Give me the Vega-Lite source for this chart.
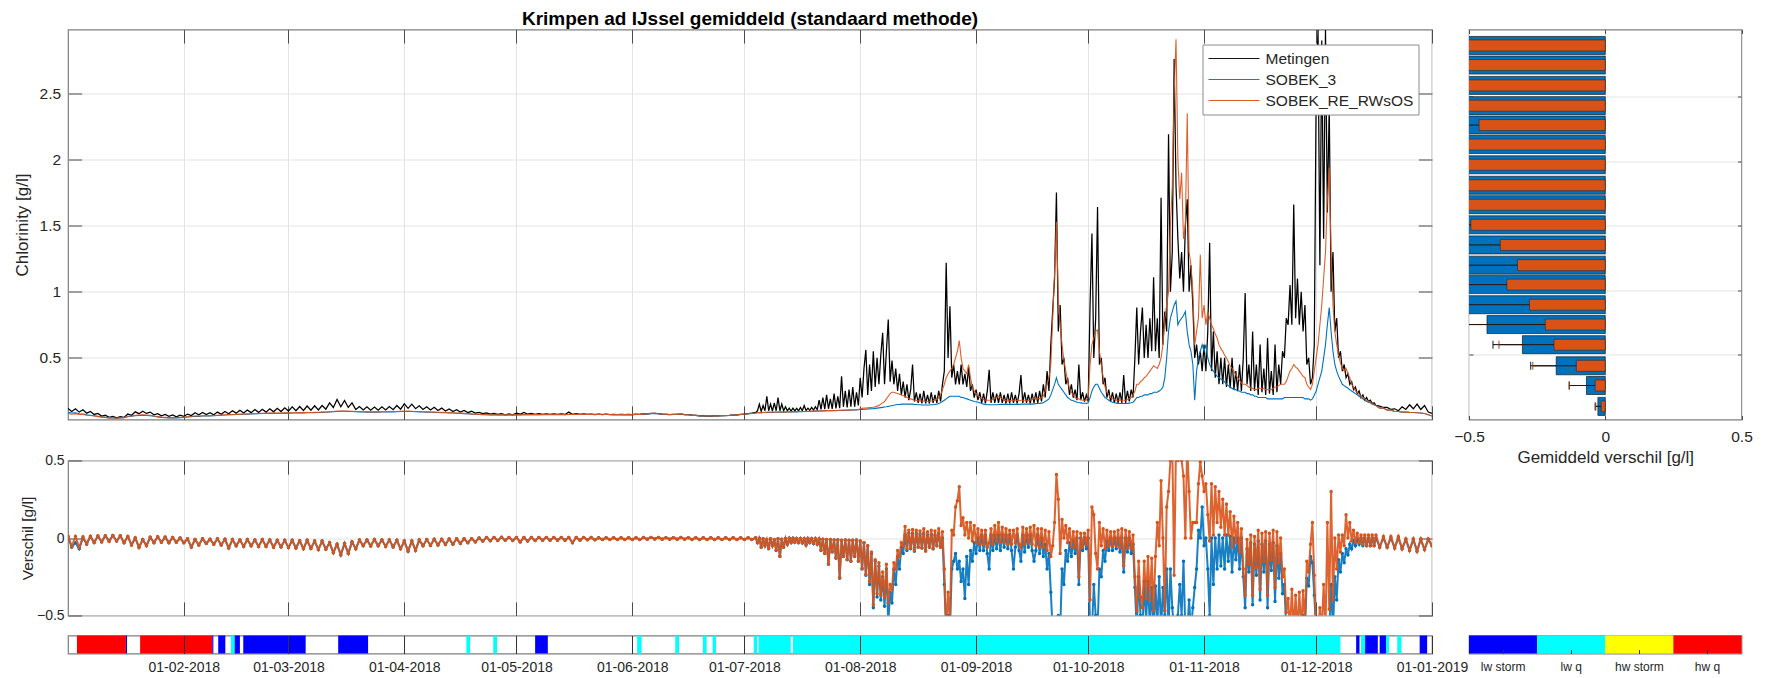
{
  "$schema": "https://vega.github.io/schema/vega-lite/v6.json",
  "background": "white",
  "padding": {"left": 12, "top": 8.5, "right": 5, "bottom": 2},
  "config": {
    "font": "Liberation Sans",
    "view": {"stroke": "#7f7f7f", "strokeWidth": 1.2},
    "axis": {
      "domain": false,
      "labelColor": "#262626",
      "titleColor": "#262626",
      "titleFontWeight": "normal",
      "tickColor": "#4d4d4d",
      "gridColor": "#e3e3e3",
      "labelOverlap": false,
      "labelFlush": false
    }
  },
  "datasets": {
    "ts": [
      {"d":0,"m":0.118,"s":0.088,"r":0.08,"a":0.01,"b":0.012},
      {"d":1,"m":0.094,"s":0.083,"r":0.074,"a":-0.06,"b":-0.055},
      {"d":2,"m":0.115,"s":0.085,"r":0.078,"a":-0.03,"b":0.01},
      {"d":3,"m":0.09,"s":0.078,"r":0.072,"a":-0.07,"b":-0.06},
      {"d":4,"m":0.108,"s":0.076,"r":0.072,"a":0,"b":0.008},
      {"d":5,"m":0.082,"s":0.07,"r":0.066,"a":-0.04,"b":-0.035},
      {"d":6,"m":0.095,"s":0.066,"r":0.064,"a":0.01,"b":0.012},
      {"d":7,"m":0.072,"s":0.062,"r":0.06,"a":-0.03,"b":-0.028},
      {"d":8,"m":0.08,"s":0.058,"r":0.056,"a":0.012,"b":0.014},
      {"d":9,"m":0.06,"s":0.053,"r":0.052,"a":-0.025,"b":-0.025},
      {"d":10,"m":0.066,"s":0.05,"r":0.05,"a":0.015,"b":0.015},
      {"d":11,"m":0.05,"s":0.046,"r":0.046,"a":-0.02,"b":-0.022},
      {"d":12,"m":0.058,"s":0.045,"r":0.046,"a":0.016,"b":0.016},
      {"d":13,"m":0.046,"s":0.044,"r":0.044,"a":-0.02,"b":-0.02},
      {"d":14,"m":0.056,"s":0.046,"r":0.046,"a":0.014,"b":0.014},
      {"d":15,"m":0.05,"s":0.048,"r":0.048,"a":-0.03,"b":-0.03},
      {"d":16,"m":0.075,"s":0.055,"r":0.058,"a":0.01,"b":0.01},
      {"d":17,"m":0.066,"s":0.058,"r":0.06,"a":-0.045,"b":-0.045},
      {"d":18,"m":0.092,"s":0.062,"r":0.066,"a":0,"b":0.002},
      {"d":19,"m":0.078,"s":0.064,"r":0.068,"a":-0.06,"b":-0.062},
      {"d":20,"m":0.097,"s":0.066,"r":0.07,"a":-0.01,"b":-0.01},
      {"d":21,"m":0.08,"s":0.064,"r":0.068,"a":-0.05,"b":-0.05},
      {"d":22,"m":0.09,"s":0.062,"r":0.066,"a":0.005,"b":0.005},
      {"d":23,"m":0.07,"s":0.058,"r":0.06,"a":-0.03,"b":-0.03},
      {"d":24,"m":0.078,"s":0.054,"r":0.056,"a":0.008,"b":0.008},
      {"d":25,"m":0.062,"s":0.05,"r":0.052,"a":-0.028,"b":-0.028},
      {"d":26,"m":0.072,"s":0.048,"r":0.05,"a":0.005,"b":0.006},
      {"d":27,"m":0.058,"s":0.046,"r":0.048,"a":-0.03,"b":-0.03},
      {"d":28,"m":0.068,"s":0.047,"r":0.048,"a":0.004,"b":0.004},
      {"d":29,"m":0.054,"s":0.046,"r":0.047,"a":-0.028,"b":-0.028},
      {"d":30,"m":0.066,"s":0.048,"r":0.05,"a":0,"b":0},
      {"d":31,"m":0.058,"s":0.05,"r":0.052,"a":-0.03,"b":-0.03},
      {"d":32,"m":0.075,"s":0.053,"r":0.055,"a":-0.005,"b":-0.005},
      {"d":33,"m":0.064,"s":0.056,"r":0.057,"a":-0.06,"b":-0.058},
      {"d":34,"m":0.085,"s":0.058,"r":0.06,"a":-0.01,"b":-0.01},
      {"d":35,"m":0.07,"s":0.058,"r":0.06,"a":-0.045,"b":-0.045},
      {"d":36,"m":0.088,"s":0.06,"r":0.062,"a":-0.005,"b":-0.005},
      {"d":37,"m":0.072,"s":0.06,"r":0.062,"a":-0.035,"b":-0.035},
      {"d":38,"m":0.086,"s":0.061,"r":0.063,"a":-0.008,"b":-0.008},
      {"d":39,"m":0.07,"s":0.062,"r":0.064,"a":-0.04,"b":-0.04},
      {"d":40,"m":0.09,"s":0.064,"r":0.066,"a":-0.005,"b":-0.005},
      {"d":41,"m":0.074,"s":0.066,"r":0.068,"a":-0.045,"b":-0.045},
      {"d":42,"m":0.094,"s":0.068,"r":0.07,"a":-0.008,"b":-0.008},
      {"d":43,"m":0.078,"s":0.07,"r":0.071,"a":-0.065,"b":-0.065},
      {"d":44,"m":0.1,"s":0.071,"r":0.072,"a":-0.01,"b":-0.01},
      {"d":45,"m":0.082,"s":0.072,"r":0.073,"a":-0.05,"b":-0.05},
      {"d":46,"m":0.104,"s":0.073,"r":0.074,"a":-0.012,"b":-0.012},
      {"d":47,"m":0.084,"s":0.074,"r":0.075,"a":-0.055,"b":-0.055},
      {"d":48,"m":0.106,"s":0.075,"r":0.076,"a":-0.01,"b":-0.01},
      {"d":49,"m":0.086,"s":0.076,"r":0.077,"a":-0.05,"b":-0.05},
      {"d":50,"m":0.11,"s":0.077,"r":0.078,"a":-0.012,"b":-0.012},
      {"d":51,"m":0.088,"s":0.078,"r":0.079,"a":-0.055,"b":-0.055},
      {"d":52,"m":0.112,"s":0.079,"r":0.08,"a":-0.01,"b":-0.01},
      {"d":53,"m":0.09,"s":0.08,"r":0.081,"a":-0.055,"b":-0.055},
      {"d":54,"m":0.115,"s":0.08,"r":0.082,"a":-0.012,"b":-0.012},
      {"d":55,"m":0.092,"s":0.08,"r":0.082,"a":-0.06,"b":-0.06},
      {"d":56,"m":0.118,"s":0.081,"r":0.083,"a":-0.015,"b":-0.015},
      {"d":57,"m":0.094,"s":0.081,"r":0.083,"a":-0.058,"b":-0.058},
      {"d":58,"m":0.122,"s":0.082,"r":0.084,"a":-0.015,"b":-0.015},
      {"d":59,"m":0.098,"s":0.082,"r":0.084,"a":-0.062,"b":-0.062},
      {"d":60,"m":0.13,"s":0.083,"r":0.085,"a":-0.015,"b":-0.015},
      {"d":61,"m":0.1,"s":0.083,"r":0.085,"a":-0.065,"b":-0.065},
      {"d":62,"m":0.132,"s":0.084,"r":0.086,"a":-0.018,"b":-0.018},
      {"d":63,"m":0.102,"s":0.084,"r":0.086,"a":-0.07,"b":-0.07},
      {"d":64,"m":0.136,"s":0.085,"r":0.087,"a":-0.015,"b":-0.015},
      {"d":65,"m":0.104,"s":0.085,"r":0.087,"a":-0.068,"b":-0.068},
      {"d":66,"m":0.138,"s":0.086,"r":0.088,"a":-0.02,"b":-0.02},
      {"d":67,"m":0.106,"s":0.087,"r":0.089,"a":-0.075,"b":-0.075},
      {"d":68,"m":0.14,"s":0.088,"r":0.09,"a":-0.02,"b":-0.02},
      {"d":69,"m":0.112,"s":0.089,"r":0.091,"a":-0.072,"b":-0.072},
      {"d":70,"m":0.16,"s":0.091,"r":0.093,"a":-0.03,"b":-0.03},
      {"d":71,"m":0.125,"s":0.093,"r":0.095,"a":-0.095,"b":-0.095},
      {"d":72,"m":0.185,"s":0.095,"r":0.097,"a":-0.04,"b":-0.04},
      {"d":73,"m":0.13,"s":0.096,"r":0.098,"a":-0.11,"b":-0.108},
      {"d":74,"m":0.178,"s":0.096,"r":0.098,"a":-0.035,"b":-0.035},
      {"d":75,"m":0.125,"s":0.095,"r":0.097,"a":-0.1,"b":-0.1},
      {"d":76,"m":0.16,"s":0.094,"r":0.096,"a":-0.025,"b":-0.025},
      {"d":77,"m":0.11,"s":0.093,"r":0.095,"a":-0.07,"b":-0.07},
      {"d":78,"m":0.132,"s":0.092,"r":0.094,"a":-0.012,"b":-0.012},
      {"d":79,"m":0.106,"s":0.091,"r":0.093,"a":-0.05,"b":-0.05},
      {"d":80,"m":0.13,"s":0.09,"r":0.092,"a":-0.012,"b":-0.012},
      {"d":81,"m":0.105,"s":0.09,"r":0.092,"a":-0.052,"b":-0.052},
      {"d":82,"m":0.128,"s":0.09,"r":0.092,"a":-0.01,"b":-0.01},
      {"d":83,"m":0.104,"s":0.09,"r":0.092,"a":-0.05,"b":-0.05},
      {"d":84,"m":0.13,"s":0.091,"r":0.093,"a":-0.012,"b":-0.012},
      {"d":85,"m":0.106,"s":0.091,"r":0.093,"a":-0.055,"b":-0.055},
      {"d":86,"m":0.132,"s":0.092,"r":0.094,"a":-0.012,"b":-0.012},
      {"d":87,"m":0.108,"s":0.092,"r":0.094,"a":-0.058,"b":-0.058},
      {"d":88,"m":0.14,"s":0.093,"r":0.095,"a":-0.015,"b":-0.015},
      {"d":89,"m":0.112,"s":0.094,"r":0.096,"a":-0.07,"b":-0.07},
      {"d":90,"m":0.152,"s":0.095,"r":0.097,"a":-0.02,"b":-0.02},
      {"d":91,"m":0.118,"s":0.095,"r":0.097,"a":-0.085,"b":-0.085},
      {"d":92,"m":0.15,"s":0.094,"r":0.096,"a":-0.02,"b":-0.02},
      {"d":93,"m":0.116,"s":0.093,"r":0.095,"a":-0.08,"b":-0.08},
      {"d":94,"m":0.138,"s":0.092,"r":0.094,"a":-0.012,"b":-0.012},
      {"d":95,"m":0.11,"s":0.091,"r":0.093,"a":-0.05,"b":-0.05},
      {"d":96,"m":0.13,"s":0.09,"r":0.092,"a":-0.01,"b":-0.01},
      {"d":97,"m":0.106,"s":0.089,"r":0.091,"a":-0.048,"b":-0.048},
      {"d":98,"m":0.126,"s":0.088,"r":0.09,"a":-0.008,"b":-0.008},
      {"d":99,"m":0.102,"s":0.087,"r":0.089,"a":-0.045,"b":-0.045},
      {"d":100,"m":0.12,"s":0.086,"r":0.088,"a":-0.008,"b":-0.008},
      {"d":101,"m":0.098,"s":0.085,"r":0.087,"a":-0.042,"b":-0.042},
      {"d":102,"m":0.114,"s":0.084,"r":0.086,"a":-0.006,"b":-0.006},
      {"d":103,"m":0.094,"s":0.083,"r":0.085,"a":-0.04,"b":-0.04},
      {"d":104,"m":0.108,"s":0.081,"r":0.083,"a":-0.005,"b":-0.005},
      {"d":105,"m":0.09,"s":0.08,"r":0.082,"a":-0.035,"b":-0.035},
      {"d":106,"m":0.102,"s":0.078,"r":0.08,"a":-0.005,"b":-0.005},
      {"d":107,"m":0.086,"s":0.077,"r":0.078,"a":-0.03,"b":-0.03},
      {"d":108,"m":0.096,"s":0.075,"r":0.076,"a":-0.004,"b":-0.004},
      {"d":109,"m":0.082,"s":0.074,"r":0.075,"a":-0.025,"b":-0.025},
      {"d":110,"m":0.088,"s":0.072,"r":0.073,"a":0,"b":0},
      {"d":111,"m":0.078,"s":0.071,"r":0.072,"a":-0.02,"b":-0.02},
      {"d":112,"m":0.084,"s":0.07,"r":0.071,"a":0.004,"b":0.004},
      {"d":113,"m":0.074,"s":0.069,"r":0.07,"a":-0.018,"b":-0.018},
      {"d":114,"m":0.08,"s":0.069,"r":0.07,"a":0.004,"b":0.004},
      {"d":115,"m":0.072,"s":0.068,"r":0.069,"a":-0.016,"b":-0.016},
      {"d":116,"m":0.078,"s":0.068,"r":0.069,"a":0.005,"b":0.005},
      {"d":117,"m":0.07,"s":0.068,"r":0.069,"a":-0.015,"b":-0.015},
      {"d":118,"m":0.076,"s":0.068,"r":0.069,"a":0.004,"b":0.004},
      {"d":119,"m":0.07,"s":0.068,"r":0.069,"a":-0.016,"b":-0.016},
      {"d":120,"m":0.082,"s":0.069,"r":0.07,"a":0.004,"b":0.004},
      {"d":121,"m":0.074,"s":0.069,"r":0.07,"a":-0.025,"b":-0.025},
      {"d":122,"m":0.088,"s":0.07,"r":0.071,"a":0.003,"b":0.003},
      {"d":123,"m":0.074,"s":0.07,"r":0.071,"a":-0.02,"b":-0.02},
      {"d":124,"m":0.08,"s":0.07,"r":0.071,"a":0.004,"b":0.004},
      {"d":125,"m":0.072,"s":0.07,"r":0.071,"a":-0.016,"b":-0.016},
      {"d":126,"m":0.078,"s":0.07,"r":0.071,"a":0.004,"b":0.004},
      {"d":127,"m":0.072,"s":0.071,"r":0.072,"a":-0.015,"b":-0.015},
      {"d":128,"m":0.076,"s":0.071,"r":0.072,"a":0.004,"b":0.004},
      {"d":129,"m":0.072,"s":0.071,"r":0.072,"a":-0.015,"b":-0.015},
      {"d":130,"m":0.076,"s":0.071,"r":0.072,"a":0.003,"b":0.003},
      {"d":131,"m":0.072,"s":0.071,"r":0.072,"a":-0.014,"b":-0.014},
      {"d":132,"m":0.076,"s":0.071,"r":0.072,"a":0.004,"b":0.004},
      {"d":133,"m":0.072,"s":0.071,"r":0.072,"a":-0.014,"b":-0.014},
      {"d":134,"m":0.09,"s":0.072,"r":0.073,"a":0.003,"b":0.003},
      {"d":135,"m":0.073,"s":0.072,"r":0.073,"a":-0.03,"b":-0.03},
      {"d":136,"m":0.078,"s":0.072,"r":0.073,"a":0.003,"b":0.003},
      {"d":137,"m":0.073,"s":0.072,"r":0.073,"a":-0.014,"b":-0.014},
      {"d":138,"m":0.076,"s":0.072,"r":0.073,"a":0.004,"b":0.004},
      {"d":139,"m":0.072,"s":0.072,"r":0.073,"a":-0.012,"b":-0.012},
      {"d":140,"m":0.075,"s":0.072,"r":0.073,"a":0.003,"b":0.003},
      {"d":141,"m":0.071,"s":0.072,"r":0.073,"a":-0.012,"b":-0.012},
      {"d":142,"m":0.074,"s":0.072,"r":0.073,"a":0.002,"b":0.002},
      {"d":143,"m":0.071,"s":0.072,"r":0.073,"a":-0.01,"b":-0.01},
      {"d":144,"m":0.074,"s":0.072,"r":0.073,"a":0.002,"b":0.002},
      {"d":145,"m":0.071,"s":0.072,"r":0.072,"a":-0.01,"b":-0.01},
      {"d":146,"m":0.073,"s":0.071,"r":0.072,"a":0.002,"b":0.002},
      {"d":147,"m":0.07,"s":0.071,"r":0.072,"a":-0.01,"b":-0.01},
      {"d":148,"m":0.073,"s":0.071,"r":0.072,"a":0.002,"b":0.002},
      {"d":149,"m":0.07,"s":0.071,"r":0.071,"a":-0.01,"b":-0.01},
      {"d":150,"m":0.073,"s":0.071,"r":0.071,"a":0.002,"b":0.002},
      {"d":151,"m":0.07,"s":0.071,"r":0.071,"a":-0.01,"b":-0.01},
      {"d":152,"m":0.074,"s":0.072,"r":0.072,"a":0.002,"b":0.002},
      {"d":153,"m":0.072,"s":0.073,"r":0.073,"a":-0.01,"b":-0.01},
      {"d":154,"m":0.077,"s":0.075,"r":0.075,"a":0.003,"b":0.003},
      {"d":155,"m":0.076,"s":0.076,"r":0.077,"a":-0.008,"b":-0.008},
      {"d":156,"m":0.08,"s":0.078,"r":0.079,"a":0.004,"b":0.004},
      {"d":157,"m":0.08,"s":0.08,"r":0.081,"a":-0.006,"b":-0.006},
      {"d":158,"m":0.078,"s":0.077,"r":0.078,"a":0.003,"b":0.003},
      {"d":159,"m":0.074,"s":0.074,"r":0.075,"a":-0.008,"b":-0.008},
      {"d":160,"m":0.073,"s":0.073,"r":0.074,"a":0.002,"b":0.002},
      {"d":161,"m":0.071,"s":0.072,"r":0.072,"a":-0.008,"b":-0.008},
      {"d":162,"m":0.072,"s":0.072,"r":0.073,"a":0.002,"b":0.002},
      {"d":163,"m":0.072,"s":0.073,"r":0.074,"a":-0.008,"b":-0.008},
      {"d":164,"m":0.075,"s":0.075,"r":0.076,"a":0.003,"b":0.003},
      {"d":165,"m":0.071,"s":0.071,"r":0.072,"a":-0.008,"b":-0.008},
      {"d":166,"m":0.07,"s":0.07,"r":0.07,"a":0.002,"b":0.002},
      {"d":167,"m":0.067,"s":0.067,"r":0.067,"a":-0.009,"b":-0.009},
      {"d":168,"m":0.065,"s":0.065,"r":0.065,"a":0.002,"b":0.002},
      {"d":169,"m":0.062,"s":0.062,"r":0.062,"a":-0.01,"b":-0.01},
      {"d":170,"m":0.061,"s":0.061,"r":0.061,"a":0.002,"b":0.002},
      {"d":171,"m":0.06,"s":0.06,"r":0.06,"a":-0.01,"b":-0.01},
      {"d":172,"m":0.06,"s":0.06,"r":0.06,"a":0.002,"b":0.002},
      {"d":173,"m":0.061,"s":0.061,"r":0.061,"a":-0.01,"b":-0.01},
      {"d":174,"m":0.062,"s":0.062,"r":0.062,"a":0.002,"b":0.002},
      {"d":175,"m":0.063,"s":0.063,"r":0.063,"a":-0.01,"b":-0.01},
      {"d":176,"m":0.064,"s":0.064,"r":0.064,"a":0.002,"b":0.002},
      {"d":177,"m":0.065,"s":0.065,"r":0.065,"a":-0.01,"b":-0.01},
      {"d":178,"m":0.067,"s":0.067,"r":0.067,"a":0.002,"b":0.002},
      {"d":179,"m":0.069,"s":0.069,"r":0.069,"a":-0.01,"b":-0.01},
      {"d":180,"m":0.072,"s":0.072,"r":0.072,"a":0.002,"b":0.002},
      {"d":181,"m":0.075,"s":0.074,"r":0.074,"a":-0.01,"b":-0.01},
      {"d":182,"m":0.078,"s":0.077,"r":0.077,"a":0.002,"b":0.002},
      {"d":183,"m":0.082,"s":0.08,"r":0.08,"a":-0.01,"b":-0.01},
      {"d":184,"m":0.088,"s":0.083,"r":0.083,"a":0.002,"b":0.002},
      {"d":184.5,"m":0.1,"s":0.085,"r":0.085,"a":-0.03,"b":-0.03},
      {"d":185,"m":0.15,"s":0.086,"r":0.086,"a":-0.002,"b":-0.002},
      {"d":185.5,"m":0.095,"s":0.086,"r":0.086,"a":-0.06,"b":-0.06},
      {"d":186,"m":0.14,"s":0.087,"r":0.087,"a":-0.005,"b":-0.005},
      {"d":186.5,"m":0.1,"s":0.087,"r":0.088,"a":-0.05,"b":-0.048},
      {"d":187,"m":0.21,"s":0.088,"r":0.089,"a":-0.01,"b":-0.01},
      {"d":187.5,"m":0.1,"s":0.088,"r":0.089,"a":-0.07,"b":-0.068},
      {"d":188,"m":0.15,"s":0.088,"r":0.089,"a":-0.005,"b":-0.004},
      {"d":188.5,"m":0.098,"s":0.088,"r":0.089,"a":-0.05,"b":-0.05},
      {"d":189,"m":0.16,"s":0.089,"r":0.09,"a":-0.01,"b":-0.01},
      {"d":189.5,"m":0.1,"s":0.089,"r":0.09,"a":-0.08,"b":-0.078},
      {"d":190,"m":0.2,"s":0.09,"r":0.091,"a":-0.005,"b":-0.005},
      {"d":190.5,"m":0.1,"s":0.09,"r":0.091,"a":-0.12,"b":-0.118},
      {"d":191,"m":0.15,"s":0.09,"r":0.091,"a":-0.008,"b":-0.008},
      {"d":191.5,"m":0.1,"s":0.09,"r":0.091,"a":-0.06,"b":-0.06},
      {"d":192,"m":0.13,"s":0.09,"r":0.091,"a":-0.004,"b":-0.004},
      {"d":192.5,"m":0.1,"s":0.091,"r":0.092,"a":-0.04,"b":-0.04},
      {"d":193,"m":0.12,"s":0.091,"r":0.092,"a":-0.002,"b":-0.002},
      {"d":193.5,"m":0.098,"s":0.091,"r":0.092,"a":-0.03,"b":-0.028},
      {"d":194,"m":0.12,"s":0.092,"r":0.093,"a":-0.002,"b":-0.002},
      {"d":194.5,"m":0.099,"s":0.092,"r":0.093,"a":-0.028,"b":-0.027},
      {"d":195,"m":0.118,"s":0.092,"r":0.093,"a":-0.003,"b":-0.003},
      {"d":195.5,"m":0.1,"s":0.093,"r":0.094,"a":-0.03,"b":-0.028},
      {"d":196,"m":0.125,"s":0.093,"r":0.094,"a":-0.003,"b":-0.003},
      {"d":196.5,"m":0.1,"s":0.093,"r":0.094,"a":-0.032,"b":-0.03},
      {"d":197,"m":0.14,"s":0.094,"r":0.095,"a":-0.005,"b":-0.004},
      {"d":197.5,"m":0.102,"s":0.094,"r":0.095,"a":-0.045,"b":-0.044},
      {"d":198,"m":0.12,"s":0.095,"r":0.096,"a":-0.003,"b":-0.003},
      {"d":198.5,"m":0.104,"s":0.095,"r":0.096,"a":-0.03,"b":-0.028},
      {"d":199,"m":0.125,"s":0.096,"r":0.097,"a":-0.004,"b":-0.004},
      {"d":199.5,"m":0.105,"s":0.096,"r":0.097,"a":-0.035,"b":-0.033},
      {"d":200,"m":0.13,"s":0.097,"r":0.098,"a":-0.004,"b":-0.004},
      {"d":200.5,"m":0.108,"s":0.097,"r":0.098,"a":-0.04,"b":-0.038},
      {"d":201,"m":0.18,"s":0.098,"r":0.099,"a":-0.006,"b":-0.006},
      {"d":201.5,"m":0.11,"s":0.098,"r":0.099,"a":-0.08,"b":-0.078},
      {"d":202,"m":0.2,"s":0.099,"r":0.1,"a":-0.008,"b":-0.008},
      {"d":202.5,"m":0.112,"s":0.099,"r":0.1,"a":-0.1,"b":-0.098},
      {"d":203,"m":0.22,"s":0.1,"r":0.101,"a":-0.01,"b":-0.01},
      {"d":203.5,"m":0.115,"s":0.1,"r":0.101,"a":-0.17,"b":-0.168},
      {"d":204,"m":0.19,"s":0.1,"r":0.101,"a":-0.01,"b":-0.01},
      {"d":204.5,"m":0.114,"s":0.1,"r":0.101,"a":-0.09,"b":-0.088},
      {"d":205,"m":0.23,"s":0.101,"r":0.102,"a":-0.012,"b":-0.012},
      {"d":205.5,"m":0.118,"s":0.101,"r":0.102,"a":-0.13,"b":-0.128},
      {"d":206,"m":0.21,"s":0.102,"r":0.103,"a":-0.012,"b":-0.011},
      {"d":206.5,"m":0.12,"s":0.102,"r":0.103,"a":-0.26,"b":-0.255},
      {"d":207,"m":0.36,"s":0.103,"r":0.104,"a":-0.015,"b":-0.014},
      {"d":207.5,"m":0.13,"s":0.103,"r":0.104,"a":-0.12,"b":-0.118},
      {"d":208,"m":0.25,"s":0.104,"r":0.105,"a":-0.012,"b":-0.012},
      {"d":208.5,"m":0.125,"s":0.104,"r":0.105,"a":-0.14,"b":-0.138},
      {"d":209,"m":0.26,"s":0.105,"r":0.106,"a":-0.015,"b":-0.015},
      {"d":209.5,"m":0.13,"s":0.105,"r":0.106,"a":-0.15,"b":-0.148},
      {"d":210,"m":0.28,"s":0.106,"r":0.107,"a":-0.015,"b":-0.015},
      {"d":210.5,"m":0.13,"s":0.106,"r":0.107,"a":-0.12,"b":-0.118},
      {"d":211,"m":0.24,"s":0.107,"r":0.108,"a":-0.012,"b":-0.012},
      {"d":211.5,"m":0.14,"s":0.108,"r":0.11,"a":-0.15,"b":-0.148},
      {"d":212,"m":0.35,"s":0.11,"r":0.115,"a":-0.02,"b":-0.02},
      {"d":212.5,"m":0.2,"s":0.11,"r":0.118,"a":-0.2,"b":-0.195},
      {"d":213,"m":0.42,"s":0.112,"r":0.12,"a":-0.03,"b":-0.03},
      {"d":213.5,"m":0.56,"s":0.112,"r":0.12,"a":-0.24,"b":-0.235},
      {"d":214,"m":0.22,"s":0.113,"r":0.122,"a":-0.05,"b":-0.05},
      {"d":214.5,"m":0.45,"s":0.114,"r":0.124,"a":-0.3,"b":-0.28},
      {"d":215,"m":0.25,"s":0.115,"r":0.125,"a":-0.1,"b":-0.09},
      {"d":215.5,"m":0.55,"s":0.116,"r":0.127,"a":-0.45,"b":-0.43},
      {"d":216,"m":0.28,"s":0.118,"r":0.13,"a":-0.15,"b":-0.14},
      {"d":216.5,"m":0.5,"s":0.12,"r":0.135,"a":-0.38,"b":-0.36},
      {"d":217,"m":0.3,"s":0.122,"r":0.14,"a":-0.18,"b":-0.16},
      {"d":217.5,"m":0.52,"s":0.124,"r":0.15,"a":-0.4,"b":-0.37},
      {"d":218,"m":0.69,"s":0.126,"r":0.16,"a":-0.25,"b":-0.22},
      {"d":218.5,"m":0.3,"s":0.128,"r":0.17,"a":-0.44,"b":-0.38},
      {"d":219,"m":0.55,"s":0.13,"r":0.19,"a":-0.2,"b":-0.17},
      {"d":219.5,"m":0.79,"s":0.133,"r":0.21,"a":-0.55,"b":-0.42},
      {"d":220,"m":0.32,"s":0.136,"r":0.23,"a":-0.35,"b":-0.3},
      {"d":220.5,"m":0.48,"s":0.14,"r":0.24,"a":-0.42,"b":-0.33},
      {"d":221,"m":0.3,"s":0.142,"r":0.24,"a":-0.2,"b":-0.16},
      {"d":221.5,"m":0.42,"s":0.145,"r":0.235,"a":-0.3,"b":-0.2},
      {"d":222,"m":0.25,"s":0.147,"r":0.23,"a":-0.12,"b":-0.08},
      {"d":222.5,"m":0.38,"s":0.148,"r":0.225,"a":-0.2,"b":-0.12},
      {"d":223,"m":0.22,"s":0.15,"r":0.22,"a":-0.06,"b":-0.03},
      {"d":223.5,"m":0.32,"s":0.15,"r":0.215,"a":-0.1,"b":-0.05},
      {"d":224,"m":0.2,"s":0.15,"r":0.21,"a":0.02,"b":0.075},
      {"d":224.5,"m":0.3,"s":0.15,"r":0.2,"a":-0.08,"b":-0.07},
      {"d":225,"m":0.18,"s":0.15,"r":0.195,"a":0.03,"b":0.05},
      {"d":225.5,"m":0.26,"s":0.15,"r":0.19,"a":-0.07,"b":-0.065},
      {"d":226,"m":0.45,"s":0.15,"r":0.185,"a":0.03,"b":0.055},
      {"d":226.5,"m":0.17,"s":0.148,"r":0.18,"a":-0.085,"b":-0.08},
      {"d":227,"m":0.24,"s":0.147,"r":0.178,"a":0.03,"b":0.05},
      {"d":227.5,"m":0.16,"s":0.146,"r":0.176,"a":-0.06,"b":-0.06},
      {"d":228,"m":0.23,"s":0.145,"r":0.175,"a":0.025,"b":0.045},
      {"d":228.5,"m":0.155,"s":0.144,"r":0.174,"a":-0.065,"b":-0.065},
      {"d":229,"m":0.25,"s":0.144,"r":0.173,"a":0.03,"b":0.06},
      {"d":229.5,"m":0.155,"s":0.144,"r":0.172,"a":-0.08,"b":-0.085},
      {"d":230,"m":0.22,"s":0.144,"r":0.172,"a":0.02,"b":0.04},
      {"d":230.5,"m":0.155,"s":0.144,"r":0.172,"a":-0.06,"b":-0.06},
      {"d":231,"m":0.24,"s":0.145,"r":0.174,"a":0.025,"b":0.05},
      {"d":231.5,"m":0.16,"s":0.146,"r":0.176,"a":-0.07,"b":-0.07},
      {"d":232,"m":0.22,"s":0.148,"r":0.18,"a":0.02,"b":0.045},
      {"d":232.5,"m":0.16,"s":0.15,"r":0.185,"a":-0.05,"b":-0.05},
      {"d":233,"m":0.25,"s":0.155,"r":0.2,"a":0.03,"b":0.06},
      {"d":233.5,"m":0.17,"s":0.16,"r":0.22,"a":-0.06,"b":-0.06},
      {"d":234,"m":0.3,"s":0.17,"r":0.26,"a":0,"b":0.04},
      {"d":234.5,"m":0.4,"s":0.18,"r":0.3,"a":-0.3,"b":-0.2},
      {"d":235,"m":1.22,"s":0.19,"r":0.35,"a":-0.6,"b":-0.6},
      {"d":235.5,"m":0.5,"s":0.2,"r":0.38,"a":-0.5,"b":-0.35},
      {"d":236,"m":0.89,"s":0.21,"r":0.4,"a":-0.6,"b":-0.55},
      {"d":236.5,"m":0.35,"s":0.21,"r":0.42,"a":-0.2,"b":0.05},
      {"d":237,"m":0.45,"s":0.21,"r":0.45,"a":-0.15,"b":0.02},
      {"d":237.5,"m":0.3,"s":0.21,"r":0.5,"a":-0.1,"b":0.2},
      {"d":238,"m":0.4,"s":0.21,"r":0.55,"a":-0.2,"b":0.24},
      {"d":238.5,"m":0.3,"s":0.21,"r":0.63,"a":-0.15,"b":0.33},
      {"d":239,"m":0.45,"s":0.2,"r":0.5,"a":-0.28,"b":0.08},
      {"d":239.5,"m":0.3,"s":0.2,"r":0.42,"a":-0.2,"b":0.13},
      {"d":240,"m":0.38,"s":0.195,"r":0.4,"a":-0.39,"b":0.02},
      {"d":240.5,"m":0.28,"s":0.19,"r":0.38,"a":-0.12,"b":0.1},
      {"d":241,"m":0.43,"s":0.185,"r":0.45,"a":-0.3,"b":0},
      {"d":241.5,"m":0.25,"s":0.18,"r":0.35,"a":-0.08,"b":0.1},
      {"d":242,"m":0.3,"s":0.175,"r":0.28,"a":-0.15,"b":-0.02},
      {"d":242.5,"m":0.2,"s":0.17,"r":0.25,"a":-0.03,"b":0.08},
      {"d":243,"m":0.26,"s":0.168,"r":0.23,"a":-0.1,"b":-0.03},
      {"d":243.5,"m":0.18,"s":0.165,"r":0.21,"a":0,"b":0.06},
      {"d":244,"m":0.24,"s":0.16,"r":0.2,"a":-0.08,"b":-0.04},
      {"d":244.5,"m":0.16,"s":0.155,"r":0.19,"a":0.02,"b":0.05},
      {"d":245,"m":0.23,"s":0.15,"r":0.185,"a":-0.08,"b":-0.04},
      {"d":245.5,"m":0.155,"s":0.148,"r":0.18,"a":0.02,"b":0.05},
      {"d":246,"m":0.25,"s":0.146,"r":0.18,"a":-0.1,"b":-0.06},
      {"d":246.5,"m":0.41,"s":0.145,"r":0.18,"a":-0.2,"b":-0.03},
      {"d":247,"m":0.16,"s":0.145,"r":0.18,"a":0.02,"b":0.06},
      {"d":247.5,"m":0.24,"s":0.145,"r":0.185,"a":-0.08,"b":-0.04},
      {"d":248,"m":0.16,"s":0.145,"r":0.19,"a":0.02,"b":0.08},
      {"d":248.5,"m":0.23,"s":0.146,"r":0.2,"a":-0.07,"b":-0.02},
      {"d":249,"m":0.16,"s":0.147,"r":0.21,"a":0.02,"b":0.1},
      {"d":249.5,"m":0.24,"s":0.148,"r":0.2,"a":-0.08,"b":-0.03},
      {"d":250,"m":0.16,"s":0.148,"r":0.19,"a":0.02,"b":0.07},
      {"d":250.5,"m":0.22,"s":0.148,"r":0.18,"a":-0.06,"b":-0.03},
      {"d":251,"m":0.155,"s":0.148,"r":0.175,"a":0.02,"b":0.06},
      {"d":251.5,"m":0.23,"s":0.148,"r":0.175,"a":-0.07,"b":-0.04},
      {"d":252,"m":0.155,"s":0.148,"r":0.175,"a":0.02,"b":0.05},
      {"d":252.5,"m":0.24,"s":0.148,"r":0.18,"a":-0.08,"b":-0.04},
      {"d":253,"m":0.16,"s":0.148,"r":0.18,"a":-0.2,"b":0.05},
      {"d":253.5,"m":0.22,"s":0.148,"r":0.18,"a":-0.06,"b":-0.03},
      {"d":254,"m":0.155,"s":0.148,"r":0.178,"a":0.02,"b":0.06},
      {"d":254.5,"m":0.23,"s":0.148,"r":0.176,"a":-0.08,"b":-0.04},
      {"d":255,"m":0.37,"s":0.15,"r":0.18,"a":-0.15,"b":-0.06},
      {"d":255.5,"m":0.16,"s":0.15,"r":0.18,"a":0.02,"b":0.07},
      {"d":256,"m":0.24,"s":0.15,"r":0.18,"a":-0.09,"b":-0.04},
      {"d":256.5,"m":0.16,"s":0.15,"r":0.18,"a":0.02,"b":0.06},
      {"d":257,"m":0.22,"s":0.15,"r":0.18,"a":-0.06,"b":-0.03},
      {"d":257.5,"m":0.155,"s":0.15,"r":0.18,"a":0.02,"b":0.07},
      {"d":258,"m":0.23,"s":0.15,"r":0.185,"a":-0.08,"b":-0.04},
      {"d":258.5,"m":0.16,"s":0.152,"r":0.19,"a":-0.15,"b":0.08},
      {"d":259,"m":0.24,"s":0.154,"r":0.19,"a":-0.08,"b":-0.05},
      {"d":259.5,"m":0.16,"s":0.155,"r":0.19,"a":0.02,"b":0.06},
      {"d":260,"m":0.25,"s":0.156,"r":0.19,"a":-0.1,"b":-0.06},
      {"d":260.5,"m":0.17,"s":0.158,"r":0.2,"a":0,"b":0.06},
      {"d":261,"m":0.3,"s":0.16,"r":0.21,"a":-0.12,"b":-0.06},
      {"d":261.5,"m":0.2,"s":0.17,"r":0.25,"a":-0.04,"b":0.05},
      {"d":262,"m":0.4,"s":0.18,"r":0.3,"a":-0.2,"b":-0.08},
      {"d":262.5,"m":0.25,"s":0.19,"r":0.35,"a":-0.1,"b":0.04},
      {"d":263,"m":0.6,"s":0.22,"r":0.45,"a":-0.35,"b":-0.12},
      {"d":263.5,"m":0.86,"s":0.26,"r":0.8,"a":-0.6,"b":-0.05},
      {"d":264,"m":1.1,"s":0.3,"r":1.14,"a":-0.6,"b":0.1},
      {"d":264.5,"m":1.75,"s":0.35,"r":1.53,"a":-0.6,"b":0.41},
      {"d":265,"m":0.7,"s":0.3,"r":0.95,"a":-0.5,"b":0.25},
      {"d":265.5,"m":0.9,"s":0.28,"r":0.75,"a":-0.6,"b":-0.1},
      {"d":266,"m":0.45,"s":0.26,"r":0.6,"a":-0.2,"b":0.12},
      {"d":266.5,"m":0.5,"s":0.24,"r":0.48,"a":-0.3,"b":0},
      {"d":267,"m":0.3,"s":0.22,"r":0.4,"a":-0.08,"b":0.08},
      {"d":267.5,"m":0.35,"s":0.2,"r":0.32,"a":-0.15,"b":-0.03},
      {"d":268,"m":0.22,"s":0.19,"r":0.27,"a":-0.03,"b":0.06},
      {"d":268.5,"m":0.3,"s":0.18,"r":0.24,"a":-0.12,"b":-0.06},
      {"d":269,"m":0.2,"s":0.175,"r":0.22,"a":-0.02,"b":0.04},
      {"d":269.5,"m":0.26,"s":0.17,"r":0.2,"a":-0.1,"b":-0.06},
      {"d":270,"m":0.18,"s":0.165,"r":0.19,"a":0,"b":0.04},
      {"d":270.5,"m":0.45,"s":0.162,"r":0.19,"a":-0.3,"b":-0.25},
      {"d":271,"m":0.18,"s":0.16,"r":0.185,"a":0,"b":0.03},
      {"d":271.5,"m":0.24,"s":0.158,"r":0.18,"a":-0.08,"b":-0.06},
      {"d":272,"m":0.17,"s":0.157,"r":0.18,"a":0,"b":0.03},
      {"d":272.5,"m":0.22,"s":0.156,"r":0.18,"a":-0.07,"b":-0.04},
      {"d":273,"m":0.17,"s":0.16,"r":0.2,"a":0,"b":0.05},
      {"d":273.5,"m":0.9,"s":0.2,"r":0.45,"a":-0.6,"b":-0.4},
      {"d":274,"m":1.44,"s":0.25,"r":0.6,"a":-0.6,"b":0.2},
      {"d":274.5,"m":0.5,"s":0.28,"r":0.65,"a":-0.3,"b":0.15},
      {"d":275,"m":0.8,"s":0.3,"r":0.7,"a":-0.5,"b":-0.1},
      {"d":275.5,"m":1.64,"s":0.3,"r":0.71,"a":-0.6,"b":-0.2},
      {"d":276,"m":0.45,"s":0.27,"r":0.55,"a":-0.2,"b":0.1},
      {"d":276.5,"m":0.5,"s":0.24,"r":0.45,"a":-0.25,"b":-0.05},
      {"d":277,"m":0.3,"s":0.22,"r":0.35,"a":-0.08,"b":0.06},
      {"d":277.5,"m":0.35,"s":0.2,"r":0.28,"a":-0.15,"b":-0.07},
      {"d":278,"m":0.2,"s":0.19,"r":0.24,"a":-0.02,"b":0.05},
      {"d":278.5,"m":0.26,"s":0.18,"r":0.22,"a":-0.08,"b":-0.05},
      {"d":279,"m":0.17,"s":0.17,"r":0.2,"a":0,"b":0.04},
      {"d":279.5,"m":0.24,"s":0.165,"r":0.19,"a":-0.08,"b":-0.05},
      {"d":280,"m":0.16,"s":0.16,"r":0.185,"a":0,"b":0.04},
      {"d":280.5,"m":0.23,"s":0.158,"r":0.18,"a":-0.07,"b":-0.05},
      {"d":281,"m":0.16,"s":0.156,"r":0.18,"a":0,"b":0.05},
      {"d":281.5,"m":0.24,"s":0.155,"r":0.18,"a":-0.09,"b":-0.06},
      {"d":282,"m":0.16,"s":0.155,"r":0.18,"a":0,"b":0.06},
      {"d":282.5,"m":0.37,"s":0.155,"r":0.18,"a":-0.22,"b":-0.18},
      {"d":283,"m":0.16,"s":0.155,"r":0.18,"a":0,"b":0.05},
      {"d":283.5,"m":0.25,"s":0.156,"r":0.185,"a":-0.09,"b":-0.06},
      {"d":284,"m":0.17,"s":0.158,"r":0.19,"a":0,"b":0.04},
      {"d":284.5,"m":0.26,"s":0.16,"r":0.2,"a":-0.1,"b":-0.07},
      {"d":285,"m":0.2,"s":0.165,"r":0.22,"a":-0.04,"b":0.02},
      {"d":285.5,"m":0.5,"s":0.18,"r":0.25,"a":-0.32,"b":-0.25},
      {"d":286,"m":0.88,"s":0.2,"r":0.3,"a":-0.6,"b":-0.47},
      {"d":286.5,"m":0.45,"s":0.2,"r":0.3,"a":-0.25,"b":-0.15},
      {"d":287,"m":0.7,"s":0.21,"r":0.32,"a":-0.5,"b":-0.38},
      {"d":287.5,"m":0.88,"s":0.21,"r":0.33,"a":-0.6,"b":-0.45},
      {"d":288,"m":0.5,"s":0.22,"r":0.35,"a":-0.28,"b":-0.15},
      {"d":288.5,"m":0.75,"s":0.22,"r":0.36,"a":-0.53,"b":-0.39},
      {"d":289,"m":0.5,"s":0.22,"r":0.38,"a":-0.28,"b":-0.12},
      {"d":289.5,"m":0.8,"s":0.23,"r":0.4,"a":-0.57,"b":-0.4},
      {"d":290,"m":0.55,"s":0.23,"r":0.42,"a":-0.32,"b":-0.13},
      {"d":290.5,"m":1.11,"s":0.24,"r":0.44,"a":-0.6,"b":-0.47},
      {"d":291,"m":0.55,"s":0.24,"r":0.43,"a":-0.31,"b":-0.12},
      {"d":291.5,"m":0.8,"s":0.24,"r":0.42,"a":-0.56,"b":0.1},
      {"d":292,"m":0.5,"s":0.25,"r":0.45,"a":-0.25,"b":-0.05},
      {"d":292.5,"m":1.71,"s":0.26,"r":0.5,"a":-0.6,"b":0.37},
      {"d":293,"m":0.6,"s":0.28,"r":0.6,"a":-0.32,"b":0},
      {"d":293.5,"m":0.85,"s":0.35,"r":0.8,"a":-0.5,"b":-0.47},
      {"d":294,"m":0.7,"s":0.5,"r":0.9,"a":-0.2,"b":0.2},
      {"d":294.5,"m":2.19,"s":0.7,"r":1,"a":-0.6,"b":0.3},
      {"d":295,"m":1,"s":0.8,"r":1.5,"a":-0.2,"b":0.5},
      {"d":295.5,"m":1.3,"s":0.85,"r":1.8,"a":-0.45,"b":0.6},
      {"d":296,"m":2.76,"s":0.9,"r":2.5,"a":-0.6,"b":-0.24},
      {"d":296.5,"m":1.8,"s":0.93,"r":2.91,"a":-0.6,"b":0.6},
      {"d":297,"m":1.4,"s":0.75,"r":2,"a":-0.5,"b":0.5},
      {"d":297.5,"m":1.1,"s":0.78,"r":1.7,"a":-0.3,"b":0.6},
      {"d":298,"m":1.3,"s":0.8,"r":1.9,"a":-0.5,"b":0.5},
      {"d":298.5,"m":1,"s":0.82,"r":1.4,"a":-0.15,"b":0.4},
      {"d":299,"m":1.5,"s":0.85,"r":1.5,"a":-0.6,"b":0},
      {"d":299.5,"m":1.7,"s":0.7,"r":2.35,"a":-0.6,"b":0.6},
      {"d":300,"m":1,"s":0.6,"r":1.3,"a":-0.4,"b":0.3},
      {"d":300.5,"m":1.2,"s":0.55,"r":1.2,"a":-0.6,"b":0},
      {"d":301,"m":0.9,"s":0.45,"r":1,"a":-0.45,"b":0.1},
      {"d":301.5,"m":0.5,"s":0.18,"r":0.6,"a":-0.32,"b":0.1},
      {"d":302,"m":0.6,"s":0.4,"r":0.7,"a":-0.2,"b":0.1},
      {"d":302.5,"m":0.45,"s":0.5,"r":0.8,"a":0.05,"b":0.35},
      {"d":303,"m":0.55,"s":0.55,"r":1.28,"a":0,"b":0.49},
      {"d":303.5,"m":0.4,"s":0.6,"r":0.8,"a":0.2,"b":0.4},
      {"d":304,"m":0.6,"s":0.55,"r":0.9,"a":-0.05,"b":0.3},
      {"d":304.5,"m":0.4,"s":0.6,"r":0.75,"a":0,"b":0.35},
      {"d":305,"m":0.7,"s":0.5,"r":0.85,"a":-0.2,"b":0.15},
      {"d":305.5,"m":1.37,"s":0.45,"r":0.8,"a":-0.5,"b":-0.02},
      {"d":306,"m":0.4,"s":0.42,"r":0.75,"a":0,"b":0.35},
      {"d":306.5,"m":0.7,"s":0.4,"r":0.72,"a":-0.3,"b":0.02},
      {"d":307,"m":0.35,"s":0.38,"r":0.68,"a":0,"b":0.33},
      {"d":307.5,"m":0.55,"s":0.36,"r":0.65,"a":-0.2,"b":0.1},
      {"d":308,"m":0.3,"s":0.35,"r":0.6,"a":0.02,"b":0.3},
      {"d":308.5,"m":0.5,"s":0.34,"r":0.57,"a":-0.18,"b":0.07},
      {"d":309,"m":0.3,"s":0.33,"r":0.55,"a":0,"b":0.25},
      {"d":309.5,"m":0.5,"s":0.32,"r":0.52,"a":-0.2,"b":0.02},
      {"d":310,"m":0.28,"s":0.3,"r":0.5,"a":0.02,"b":0.22},
      {"d":310.5,"m":0.45,"s":0.29,"r":0.47,"a":-0.15,"b":0.02},
      {"d":311,"m":0.27,"s":0.28,"r":0.44,"a":0.01,"b":0.17},
      {"d":311.5,"m":0.5,"s":0.27,"r":0.42,"a":-0.22,"b":-0.06},
      {"d":312,"m":0.26,"s":0.26,"r":0.4,"a":0,"b":0.14},
      {"d":312.5,"m":0.4,"s":0.26,"r":0.37,"a":-0.14,"b":-0.03},
      {"d":313,"m":0.25,"s":0.25,"r":0.35,"a":0,"b":0.1},
      {"d":313.5,"m":0.45,"s":0.25,"r":0.33,"a":-0.2,"b":-0.09},
      {"d":314,"m":0.25,"s":0.24,"r":0.31,"a":0,"b":0.06},
      {"d":314.5,"m":0.5,"s":0.24,"r":0.3,"a":-0.25,"b":-0.2},
      {"d":315,"m":0.99,"s":0.24,"r":0.3,"a":-0.45,"b":-0.37},
      {"d":315.5,"m":0.3,"s":0.23,"r":0.29,"a":-0.07,"b":-0.01},
      {"d":316,"m":0.45,"s":0.23,"r":0.28,"a":-0.22,"b":-0.17},
      {"d":316.5,"m":0.25,"s":0.22,"r":0.27,"a":-0.03,"b":0.02},
      {"d":317,"m":0.7,"s":0.22,"r":0.27,"a":-0.43,"b":-0.37},
      {"d":317.5,"m":0.25,"s":0.21,"r":0.26,"a":-0.04,"b":0.01},
      {"d":318,"m":0.45,"s":0.21,"r":0.26,"a":-0.24,"b":-0.19},
      {"d":318.5,"m":0.22,"s":0.2,"r":0.27,"a":-0.02,"b":0.05},
      {"d":319,"m":0.6,"s":0.2,"r":0.27,"a":-0.4,"b":-0.33},
      {"d":319.5,"m":0.24,"s":0.2,"r":0.27,"a":-0.04,"b":0.03},
      {"d":320,"m":0.42,"s":0.2,"r":0.27,"a":-0.22,"b":-0.15},
      {"d":320.5,"m":0.22,"s":0.2,"r":0.26,"a":-0.02,"b":0.04},
      {"d":321,"m":0.65,"s":0.19,"r":0.26,"a":-0.45,"b":-0.37},
      {"d":321.5,"m":0.23,"s":0.19,"r":0.26,"a":-0.04,"b":0.03},
      {"d":322,"m":0.4,"s":0.19,"r":0.26,"a":-0.21,"b":-0.14},
      {"d":322.5,"m":0.22,"s":0.19,"r":0.27,"a":-0.03,"b":0.05},
      {"d":323,"m":0.6,"s":0.19,"r":0.28,"a":-0.41,"b":-0.32},
      {"d":323.5,"m":0.24,"s":0.19,"r":0.28,"a":-0.05,"b":0.04},
      {"d":324,"m":0.45,"s":0.19,"r":0.29,"a":-0.26,"b":-0.16},
      {"d":324.5,"m":0.3,"s":0.19,"r":0.3,"a":-0.1,"b":0},
      {"d":325,"m":0.55,"s":0.19,"r":0.3,"a":-0.36,"b":-0.25},
      {"d":325.5,"m":0.5,"s":0.2,"r":0.3,"a":-0.3,"b":-0.2},
      {"d":326,"m":0.8,"s":0.2,"r":0.32,"a":-0.6,"b":-0.48},
      {"d":326.5,"m":0.75,"s":0.2,"r":0.36,"a":-0.55,"b":-0.39},
      {"d":327,"m":1.05,"s":0.2,"r":0.4,"a":-0.6,"b":-0.6},
      {"d":327.5,"m":0.75,"s":0.2,"r":0.42,"a":-0.55,"b":-0.33},
      {"d":328,"m":1.66,"s":0.2,"r":0.45,"a":-0.6,"b":-0.6},
      {"d":328.5,"m":0.8,"s":0.2,"r":0.43,"a":-0.6,"b":-0.37},
      {"d":329,"m":1.1,"s":0.2,"r":0.42,"a":-0.6,"b":-0.6},
      {"d":329.5,"m":0.75,"s":0.2,"r":0.4,"a":-0.55,"b":-0.35},
      {"d":330,"m":1,"s":0.2,"r":0.38,"a":-0.6,"b":-0.6},
      {"d":330.5,"m":0.7,"s":0.2,"r":0.36,"a":-0.5,"b":-0.34},
      {"d":331,"m":0.9,"s":0.19,"r":0.35,"a":-0.6,"b":-0.55},
      {"d":331.5,"m":0.45,"s":0.19,"r":0.3,"a":-0.26,"b":-0.15},
      {"d":332,"m":0.5,"s":0.19,"r":0.28,"a":-0.31,"b":-0.22},
      {"d":332.5,"m":0.3,"s":0.18,"r":0.26,"a":-0.12,"b":-0.04},
      {"d":333,"m":0.35,"s":0.19,"r":0.3,"a":-0.16,"b":0.1},
      {"d":333.5,"m":0.6,"s":0.22,"r":0.4,"a":-0.37,"b":-0.24},
      {"d":334,"m":2.5,"s":0.25,"r":0.5,"a":-0.6,"b":-0.6},
      {"d":334.5,"m":2.98,"s":0.3,"r":0.6,"a":-0.6,"b":-0.6},
      {"d":335,"m":1.2,"s":0.35,"r":0.75,"a":-0.6,"b":-0.45},
      {"d":335.5,"m":2.9,"s":0.4,"r":0.9,"a":-0.6,"b":-0.6},
      {"d":336,"m":1.4,"s":0.5,"r":1.1,"a":-0.6,"b":-0.3},
      {"d":336.5,"m":2.98,"s":0.6,"r":1.3,"a":-0.6,"b":-0.6},
      {"d":337,"m":1.6,"s":0.75,"r":1.7,"a":-0.6,"b":0.1},
      {"d":337.5,"m":2.4,"s":0.88,"r":1.94,"a":-0.6,"b":-0.46},
      {"d":338,"m":1,"s":0.7,"r":1.3,"a":-0.3,"b":0.3},
      {"d":338.5,"m":1.3,"s":0.55,"r":0.9,"a":-0.6,"b":-0.4},
      {"d":339,"m":0.7,"s":0.45,"r":0.7,"a":-0.25,"b":0},
      {"d":339.5,"m":0.8,"s":0.4,"r":0.6,"a":-0.4,"b":-0.2},
      {"d":340,"m":0.5,"s":0.36,"r":0.52,"a":-0.14,"b":0.02},
      {"d":340.5,"m":0.55,"s":0.33,"r":0.46,"a":-0.22,"b":-0.09},
      {"d":341,"m":0.4,"s":0.3,"r":0.42,"a":-0.1,"b":0.02},
      {"d":341.5,"m":0.45,"s":0.29,"r":0.4,"a":-0.16,"b":-0.05},
      {"d":342,"m":0.35,"s":0.28,"r":0.42,"a":-0.07,"b":0.15},
      {"d":342.5,"m":0.38,"s":0.27,"r":0.38,"a":-0.11,"b":0},
      {"d":343,"m":0.3,"s":0.26,"r":0.35,"a":-0.04,"b":0.1},
      {"d":343.5,"m":0.32,"s":0.25,"r":0.3,"a":-0.07,"b":-0.02},
      {"d":344,"m":0.26,"s":0.24,"r":0.28,"a":-0.02,"b":0.05},
      {"d":344.5,"m":0.28,"s":0.23,"r":0.25,"a":-0.05,"b":-0.03},
      {"d":345,"m":0.23,"s":0.22,"r":0.24,"a":-0.01,"b":0.03},
      {"d":345.5,"m":0.25,"s":0.21,"r":0.22,"a":-0.04,"b":-0.03},
      {"d":346,"m":0.2,"s":0.2,"r":0.21,"a":0,"b":0.02},
      {"d":346.5,"m":0.22,"s":0.19,"r":0.2,"a":-0.05,"b":-0.04},
      {"d":347,"m":0.18,"s":0.18,"r":0.19,"a":0,"b":0.02},
      {"d":347.5,"m":0.2,"s":0.17,"r":0.18,"a":-0.05,"b":-0.05},
      {"d":348,"m":0.17,"s":0.165,"r":0.17,"a":0,"b":0.02},
      {"d":348.5,"m":0.18,"s":0.16,"r":0.16,"a":-0.05,"b":-0.05},
      {"d":349,"m":0.155,"s":0.15,"r":0.155,"a":0,"b":0.02},
      {"d":349.5,"m":0.16,"s":0.145,"r":0.145,"a":-0.05,"b":-0.05},
      {"d":350,"m":0.14,"s":0.14,"r":0.14,"a":0,"b":0.02},
      {"d":351,"m":0.135,"s":0.12,"r":0.12,"a":-0.06,"b":-0.06},
      {"d":352,"m":0.125,"s":0.12,"r":0.12,"a":0,"b":0.01},
      {"d":353,"m":0.125,"s":0.105,"r":0.105,"a":-0.06,"b":-0.06},
      {"d":354,"m":0.11,"s":0.105,"r":0.105,"a":0,"b":0.01},
      {"d":355,"m":0.115,"s":0.095,"r":0.095,"a":-0.065,"b":-0.065},
      {"d":356,"m":0.1,"s":0.095,"r":0.095,"a":0,"b":0.01},
      {"d":357,"m":0.13,"s":0.09,"r":0.09,"a":-0.07,"b":-0.07},
      {"d":358,"m":0.11,"s":0.09,"r":0.09,"a":-0.01,"b":-0.005},
      {"d":359,"m":0.145,"s":0.088,"r":0.088,"a":-0.08,"b":-0.08},
      {"d":360,"m":0.115,"s":0.087,"r":0.087,"a":-0.01,"b":-0.005},
      {"d":361,"m":0.15,"s":0.085,"r":0.085,"a":-0.085,"b":-0.085},
      {"d":362,"m":0.11,"s":0.083,"r":0.083,"a":-0.01,"b":-0.005},
      {"d":363,"m":0.14,"s":0.08,"r":0.08,"a":-0.075,"b":-0.075},
      {"d":364,"m":0.09,"s":0.07,"r":0.07,"a":-0.01,"b":-0.005},
      {"d":365,"m":0.08,"s":0.06,"r":0.06,"a":-0.05,"b":-0.05}
    ],
    "strip": [
      {"s":2.4,"e":15.5,"c":"hw q"},
      {"s":15.5,"e":15.8,"c":"lw storm"},
      {"s":19.3,"e":38.6,"c":"hw q"},
      {"s":38.6,"e":38.9,"c":"lw storm"},
      {"s":40.2,"e":42.1,"c":"lw storm"},
      {"s":43.6,"e":44.6,"c":"lw q"},
      {"s":44.6,"e":46,"c":"lw storm"},
      {"s":46.9,"e":63.6,"c":"lw storm"},
      {"s":72.3,"e":80.3,"c":"lw storm"},
      {"s":106.6,"e":107.6,"c":"lw q"},
      {"s":113.8,"e":114.8,"c":"lw q"},
      {"s":125,"e":128.4,"c":"lw storm"},
      {"s":152.3,"e":153.5,"c":"lw q"},
      {"s":162.5,"e":163.5,"c":"lw q"},
      {"s":169.9,"e":170.9,"c":"lw q"},
      {"s":172.5,"e":173.4,"c":"lw q"},
      {"s":183.5,"e":184.4,"c":"lw q"},
      {"s":184.8,"e":193.4,"c":"lw q"},
      {"s":194,"e":340.5,"c":"lw q"},
      {"s":344.7,"e":345.6,"c":"lw storm"},
      {"s":346,"e":347.1,"c":"lw q"},
      {"s":347.1,"e":350.5,"c":"lw storm"},
      {"s":351,"e":352.7,"c":"lw storm"},
      {"s":352.7,"e":353.5,"c":"lw q"},
      {"s":355.7,"e":356.8,"c":"lw q"},
      {"s":361.7,"e":363.7,"c":"lw storm"}
    ],
    "bars": [
      {"y":0.097,"a":-0.027,"al":-0.037,"b":-0.015,"bl":-0.035},
      {"y":0.259,"a":-0.069,"al":-0.132,"b":-0.037,"bl":-0.132},
      {"y":0.412,"a":-0.18,"al":-0.274,"b":-0.106,"bl":-0.266},
      {"y":0.576,"a":-0.304,"al":-0.412,"b":-0.188,"bl":-0.39},
      {"y":0.732,"a":-0.434,"al":-0.58,"b":-0.22,"bl":-0.55},
      {"y":0.886,"a":-0.58,"al":-0.6,"b":-0.278,"bl":-0.58},
      {"y":1.042,"a":-0.58,"al":-0.6,"b":-0.361,"bl":-0.58},
      {"y":1.193,"a":-0.58,"al":-0.6,"b":-0.322,"bl":-0.58},
      {"y":1.35,"a":-0.58,"al":-0.6,"b":-0.385,"bl":-0.58},
      {"y":1.506,"a":-0.58,"al":-0.6,"b":-0.493,"bl":-0.58},
      {"y":1.662,"a":-0.58,"al":-0.6,"b":-0.55,"bl":-0.6},
      {"y":1.813,"a":-0.58,"al":-0.6,"b":-0.55,"bl":-0.6},
      {"y":1.972,"a":-0.58,"al":-0.6,"b":-0.55,"bl":-0.6},
      {"y":2.129,"a":-0.58,"al":-0.6,"b":-0.55,"bl":-0.6},
      {"y":2.28,"a":-0.58,"al":-0.6,"b":-0.463,"bl":-0.58},
      {"y":2.431,"a":-0.58,"al":-0.6,"b":-0.55,"bl":-0.6},
      {"y":2.588,"a":-0.58,"al":-0.6,"b":-0.55,"bl":-0.6},
      {"y":2.746,"a":-0.58,"al":-0.6,"b":-0.55,"bl":-0.6},
      {"y":2.898,"a":-0.58,"al":-0.6,"b":-0.55,"bl":-0.6}
    ]
  },
  "concat": [
    {
      "width": 1364,
      "height": 390,
      "title": {"text": "Krimpen ad IJssel gemiddeld (standaard methode)", "fontSize": 19, "fontWeight": "bold", "color": "#000000", "anchor": "middle", "frame": "group", "baseline": "alphabetic", "offset": -15},
      "data": {"name": "ts"},
      "layer": [
        {
          "mark": {"type": "line", "strokeWidth": 1.25, "clip": true},
          "encoding": {
            "x": {"field": "d", "type": "quantitative", "scale": {"domain": [0, 365], "nice": false, "zero": false},
                  "axis": {"values": [31,59,90,120,151,181,212,243,273,304,334,365], "labels": false, "title": null, "grid": true, "tickSize": -13.6}},
            "y": {"field": "m", "type": "quantitative", "scale": {"domain": [0.034, 2.983], "nice": false, "zero": false},
                  "axis": {"values": [0.5,1,1.5,2,2.5], "format": "~g", "grid": true, "tickSize": -13.6, "labelPadding": 21, "labelFontSize": 15.5, "title": "Chlorinity [g/l]", "titleFontSize": 17, "titlePadding": 8}},
            "color": {"datum": "Metingen", "type": "nominal",
                      "scale": {"domain": ["Metingen", "SOBEK_3", "SOBEK_RE_RWsOS"], "range": ["#000000", "#0072BD", "#D95319"]},
                      "legend": {"orient": "none", "legendX": 1134.5, "legendY": 15, "title": null, "symbolType": "stroke", "symbolSize": 2600, "symbolStrokeWidth": 1.2, "clipHeight": 18, "labelFontSize": 15.5, "labelColor": "#262626", "labelOffset": 5, "rowPadding": 3, "padding": 5, "strokeColor": "#8c8c8c", "fillColor": "#ffffff"}}
          }
        },
        {
          "mark": {"type": "line", "strokeWidth": 1.1, "clip": true},
          "encoding": {
            "x": {"field": "d", "type": "quantitative", "axis": null},
            "y": {"field": "s", "type": "quantitative", "axis": null},
            "color": {"datum": "SOBEK_3", "type": "nominal",
                      "legend": {"orient": "none", "legendX": 1134.5, "legendY": 15, "title": null, "symbolType": "stroke", "symbolSize": 2600, "symbolStrokeWidth": 1.2, "clipHeight": 18, "labelFontSize": 15.5, "labelColor": "#262626", "labelOffset": 5, "rowPadding": 3, "padding": 5, "strokeColor": "#8c8c8c", "fillColor": "#ffffff"}}
          }
        },
        {
          "mark": {"type": "line", "strokeWidth": 1.1, "opacity": 0.92, "clip": true},
          "encoding": {
            "x": {"field": "d", "type": "quantitative", "axis": null},
            "y": {"field": "r", "type": "quantitative", "axis": null},
            "color": {"datum": "SOBEK_RE_RWsOS", "type": "nominal",
                      "legend": {"orient": "none", "legendX": 1134.5, "legendY": 15, "title": null, "symbolType": "stroke", "symbolSize": 2600, "symbolStrokeWidth": 1.2, "clipHeight": 18, "labelFontSize": 15.5, "labelColor": "#262626", "labelOffset": 5, "rowPadding": 3, "padding": 5, "strokeColor": "#8c8c8c", "fillColor": "#ffffff"}}
          }
        },
        {
          "data": {"values": [{"d": 0, "m": 0.5}]},
          "mark": {"type": "point", "opacity": 0},
          "encoding": {
            "x": {"field": "d", "type": "quantitative", "scale": {"domain": [0, 365], "nice": false, "zero": false},
                  "axis": {"orient": "top", "values": [31,59,90,120,151,181,212,243,273,304,334,365], "labels": false, "title": null, "grid": false, "tickSize": -13.6}},
            "y": {"field": "m", "type": "quantitative", "scale": {"domain": [0.034, 2.983], "nice": false, "zero": false},
                  "axis": {"orient": "right", "values": [0.5,1,1.5,2,2.5], "labels": false, "title": null, "grid": false, "tickSize": -13.6}}
          }
        }
      ],
      "resolve": {"axis": {"x": "independent", "y": "independent"}}
    },
    {
      "width": 272.5,
      "height": 390,
      "data": {"name": "bars"},
      "layer": [
        {
          "mark": {"type": "bar", "size": 18, "color": "#0072BD", "stroke": "#1a1a1a", "strokeWidth": 0.7, "clip": true},
          "encoding": {
            "x": {"field": "a", "type": "quantitative", "scale": {"domain": [-0.5, 0.5], "nice": false, "zero": false},
                  "axis": {"values": [-0.5, 0, 0.5], "format": "~g", "grid": true, "tickSize": -4, "labelPadding": 14, "labelFontSize": 15.5, "title": "Gemiddeld verschil [g/l]", "titleFontSize": 17, "titlePadding": 4}},
            "x2": {"datum": 0},
            "y": {"field": "y", "type": "quantitative", "scale": {"domain": [0.034, 2.983], "nice": false, "zero": false},
                  "axis": {"values": [0.5,1,1.5,2,2.5], "labels": false, "title": null, "grid": true, "tickSize": -4}}
          }
        },
        {
          "mark": {"type": "rule", "color": "#000000", "strokeWidth": 1, "clip": true},
          "encoding": {
            "x": {"field": "al", "type": "quantitative", "axis": null},
            "x2": {"field": "a"},
            "y": {"field": "y", "type": "quantitative", "axis": null}
          }
        },
        {
          "mark": {"type": "tick", "orient": "vertical", "color": "#000000", "size": 8, "thickness": 1.3, "clip": true},
          "encoding": {
            "x": {"field": "al", "type": "quantitative", "axis": null},
            "y": {"field": "y", "type": "quantitative", "axis": null}
          }
        },
        {
          "mark": {"type": "bar", "size": 11, "color": "#D95319", "stroke": "#2a2a2a", "strokeWidth": 0.6, "clip": true},
          "encoding": {
            "x": {"field": "b", "type": "quantitative", "axis": null},
            "x2": {"datum": 0},
            "y": {"field": "y", "type": "quantitative", "axis": null}
          }
        },
        {
          "mark": {"type": "rule", "color": "#2b1408", "strokeWidth": 1, "clip": true},
          "encoding": {
            "x": {"field": "bl", "type": "quantitative", "axis": null},
            "x2": {"field": "b"},
            "y": {"field": "y", "type": "quantitative", "axis": null}
          }
        },
        {
          "mark": {"type": "tick", "orient": "vertical", "color": "#8b3a12", "size": 8, "thickness": 1.3, "clip": true},
          "encoding": {
            "x": {"field": "bl", "type": "quantitative", "axis": null},
            "y": {"field": "y", "type": "quantitative", "axis": null}
          }
        },
        {
          "data": {"values": [{"a": 0, "y": 0.5}]},
          "mark": {"type": "point", "opacity": 0},
          "encoding": {
            "x": {"field": "a", "type": "quantitative", "scale": {"domain": [-0.5, 0.5], "nice": false, "zero": false},
                  "axis": {"orient": "top", "values": [-0.5, 0, 0.5], "labels": false, "title": null, "grid": false, "tickSize": -4}},
            "y": {"field": "y", "type": "quantitative", "scale": {"domain": [0.034, 2.983], "nice": false, "zero": false},
                  "axis": {"orient": "right", "values": [0.5,1,1.5,2,2.5], "labels": false, "title": null, "grid": false, "tickSize": -4}}
          }
        }
      ],
      "resolve": {"axis": {"x": "independent", "y": "independent"}}
    },
    {"width": 1, "height": 0.01, "data": {"values": []}, "mark": "point", "view": {"stroke": null}},
    {"width": 1, "height": 0.01, "data": {"values": []}, "mark": "point", "view": {"stroke": null}},
    {
      "width": 1364,
      "height": 155,
      "data": {"name": "ts"},
      "layer": [
        {
          "mark": {"type": "line", "color": "#0072BD", "strokeWidth": 2, "opacity": 0.9, "clip": true},
          "encoding": {
            "x": {"field": "d", "type": "quantitative", "scale": {"domain": [0, 365], "nice": false, "zero": false},
                  "axis": {"values": [31,59,90,120,151,181,212,243,273,304,334,365], "labels": false, "title": null, "grid": true, "tickSize": -13.6}},
            "y": {"field": "a", "type": "quantitative", "scale": {"domain": [-0.5, 0.5], "nice": false, "zero": false},
                  "axis": {"values": [-0.5, 0, 0.5], "format": "~g", "grid": true, "tickSize": -13.6, "labelPadding": 17.5, "labelFontSize": 14, "title": "Verschil [g/l]", "titleFontSize": 15.5, "titlePadding": 1}}
          }
        },
        {
          "mark": {"type": "point", "filled": true, "color": "#0072BD", "size": 12, "opacity": 1, "clip": true},
          "encoding": {
            "x": {"field": "d", "type": "quantitative", "axis": null},
            "y": {"field": "a", "type": "quantitative", "axis": null}
          }
        },
        {
          "mark": {"type": "line", "color": "#D95319", "strokeWidth": 2, "opacity": 0.9, "clip": true},
          "encoding": {
            "x": {"field": "d", "type": "quantitative", "axis": null},
            "y": {"field": "b", "type": "quantitative", "axis": null}
          }
        },
        {
          "mark": {"type": "point", "filled": true, "color": "#D95319", "size": 12, "opacity": 1, "clip": true},
          "encoding": {
            "x": {"field": "d", "type": "quantitative", "axis": null},
            "y": {"field": "b", "type": "quantitative", "axis": null}
          }
        },
        {
          "data": {"values": [{"d": 0, "a": 0}]},
          "mark": {"type": "point", "opacity": 0},
          "encoding": {
            "x": {"field": "d", "type": "quantitative", "scale": {"domain": [0, 365], "nice": false, "zero": false},
                  "axis": {"orient": "top", "values": [31,59,90,120,151,181,212,243,273,304,334,365], "labels": false, "title": null, "grid": false, "tickSize": -13.6}},
            "y": {"field": "a", "type": "quantitative", "scale": {"domain": [-0.5, 0.5], "nice": false, "zero": false},
                  "axis": {"orient": "right", "values": [-0.5, 0, 0.5], "labels": false, "title": null, "grid": false, "tickSize": -13.6}}
          }
        }
      ],
      "resolve": {"axis": {"x": "independent", "y": "independent"}}
    },
    {"width": 1, "height": 0.01, "data": {"values": []}, "mark": "point", "view": {"stroke": null}},
    {
      "width": 1364,
      "height": 18,
      "data": {"name": "strip"},
      "mark": {"type": "rect"},
      "encoding": {
        "x": {"field": "s", "type": "quantitative", "scale": {"domain": [0, 365], "nice": false, "zero": false},
              "axis": {"values": [31,59,90,120,151,181,212,243,273,304,334,365], "labelExpr": "timeFormat(datetime(2018, 0, 1 + datum.value), '%d-%m-%Y')", "tickSize": -18, "tickColor": "#333333", "labelPadding": 25, "labelFontSize": 14, "grid": false, "title": null, "zindex": 1}},
        "x2": {"field": "e"},
        "color": {"field": "c", "type": "nominal", "legend": null,
                  "scale": {"domain": ["lw storm", "lw q", "hw storm", "hw q"], "range": ["#0000ff", "#00ffff", "#ffff00", "#ff0000"]}}
      }
    },
    {
      "width": 272.5,
      "height": 18,
      "data": {"values": [{"c": "lw storm"}, {"c": "lw q"}, {"c": "hw storm"}, {"c": "hw q"}]},
      "mark": {"type": "rect"},
      "encoding": {
        "x": {"field": "c", "type": "nominal", "sort": null,
              "scale": {"type": "band", "domain": ["lw storm", "lw q", "hw storm", "hw q"], "paddingInner": 0, "paddingOuter": 0},
              "axis": {"tickSize": -4, "tickColor": "#333333", "labelPadding": 12, "labelFontSize": 12, "labelAngle": 0, "title": null, "zindex": 1, "grid": false}},
        "color": {"field": "c", "type": "nominal", "legend": null,
                  "scale": {"domain": ["lw storm", "lw q", "hw storm", "hw q"], "range": ["#0000ff", "#00ffff", "#ffff00", "#ff0000"]}}
      }
    }
  ],
  "columns": 2,
  "spacing": {"row": 20, "column": 37},
  "bounds": "flush",
  "align": "each",
  "resolve": {"scale": {"color": "independent"}, "legend": {"color": "independent"}}
}
